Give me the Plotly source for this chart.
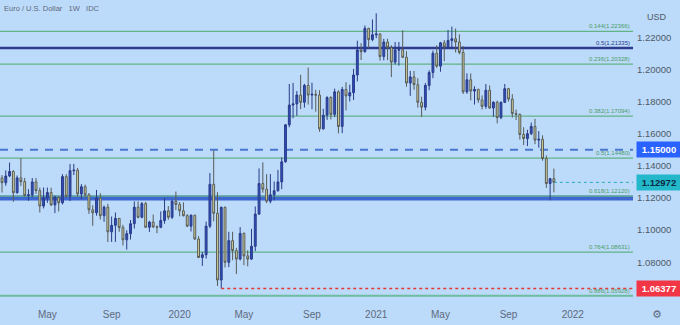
import pandas as pd
import plotly.graph_objects as go

# ---------------- data ----------------
dates = pd.date_range("2019-02-11", "2021-11-29", freq="7D")

opens = [
    # 2019
    1.1325, 1.1295, 1.1337, 1.1365, 1.1233, 1.1325, 1.1302, 1.1216, 1.1220, 1.1300, 1.1246, 1.1150,
    1.1200, 1.1234, 1.1157, 1.1204, 1.1170, 1.1333, 1.1210, 1.1370, 1.1373, 1.1225, 1.1270, 1.1220, 1.1127,
    1.1108, 1.1200, 1.1090, 1.1143, 1.0990, 1.1030, 1.1073, 1.1016, 1.0940, 1.0978, 1.1040, 1.1143, 1.1080,
    1.1165, 1.1018, 1.1050, 1.1020, 1.1018, 1.1060, 1.1120, 1.1080, 1.1180,
    # 2020
    1.1160, 1.1120, 1.1090, 1.1025,
    1.1093, 1.0945, 1.0830, 1.0847,
    1.1025, 1.1285, 1.1105, 1.0690, 1.1142,
    1.0800, 1.0935, 1.0873, 1.0820,
    1.0980, 1.0840, 1.0820, 1.0900,
    1.1100, 1.1290, 1.1255, 1.1180, 1.1220,
    1.1245, 1.1300, 1.1425, 1.1655,
    1.1778, 1.1785, 1.1840, 1.1795, 1.1900,
    1.1840, 1.1845, 1.1840, 1.1630,
    1.1715, 1.1825, 1.1720, 1.1860,
    1.1645, 1.1875, 1.1835, 1.1855, 1.1965,
    1.2120, 1.2110, 1.2255, 1.2185,
    # 2021
    1.2215, 1.2220, 1.2080, 1.2170,
    1.2135, 1.2045, 1.2120, 1.2122,
    1.2075, 1.1915, 1.1953, 1.1905, 1.1795,
    1.1765, 1.1900, 1.1980, 1.2100,
    1.2020, 1.2165, 1.2140, 1.2180, 1.2190,
    1.2170, 1.2105, 1.1860, 1.1935,
    1.1865, 1.1875, 1.1810, 1.1770,
    1.1870, 1.1760, 1.1795, 1.1700, 1.1795,
    1.1880, 1.1815, 1.1725, 1.1720,
    1.1595, 1.1570, 1.1600, 1.1645,
    1.1560, 1.1565, 1.1445, 1.1290, 1.1320,
]
highs = [
    # 2019
    1.1342, 1.1372, 1.1420, 1.1374, 1.1340, 1.1448, 1.1325, 1.1255, 1.1324, 1.1324, 1.1265, 1.1265,
    1.1265, 1.1264, 1.1215, 1.1210, 1.1348, 1.1348, 1.1412, 1.1412, 1.1387, 1.1286, 1.1283, 1.1231, 1.1155,
    1.1250, 1.1230, 1.1153, 1.1164, 1.1085, 1.1110, 1.1076, 1.1033, 1.0999, 1.1063, 1.1179, 1.1179, 1.1175,
    1.1176, 1.1058, 1.1097, 1.1030, 1.1117, 1.1200, 1.1150, 1.1190, 1.1240,
    # 2020
    1.1175, 1.1173, 1.1100, 1.1097,
    1.1095, 1.0963, 1.0865, 1.1053,
    1.1355, 1.1496, 1.1236, 1.1147, 1.1147,
    1.0990, 1.0990, 1.0890, 1.1019,
    1.0986, 1.0875, 1.1008, 1.1147,
    1.1384, 1.1422, 1.1348, 1.1349, 1.1303,
    1.1375, 1.1452, 1.1660, 1.1909,
    1.1916, 1.1865, 1.1966, 1.1910, 1.2011,
    1.1917, 1.1873, 1.1870, 1.1755,
    1.1833, 1.1833, 1.1880, 1.1870,
    1.1891, 1.1920, 1.1905, 1.2003, 1.2178,
    1.2163, 1.2273, 1.2258, 1.2310,
    # 2021
    1.2349, 1.2223, 1.2190, 1.2190,
    1.2150, 1.2170, 1.2170, 1.2243,
    1.2113, 1.1990, 1.1990, 1.1945, 1.1830,
    1.1915, 1.1994, 1.2117, 1.2150,
    1.2171, 1.2182, 1.2245, 1.2266, 1.2254,
    1.2218, 1.2145, 1.1975, 1.1975,
    1.1895, 1.1880, 1.1838, 1.1909,
    1.1900, 1.1802, 1.1805, 1.1800, 1.1909,
    1.1885, 1.1846, 1.1750, 1.1725,
    1.1640, 1.1624, 1.1669, 1.1692,
    1.1616, 1.1590, 1.1465, 1.1325, 1.1383,
]
lows = [
    # 2019
    1.1234, 1.1276, 1.1330, 1.1176, 1.1227, 1.1275, 1.1210, 1.1183, 1.1205, 1.1226, 1.1110, 1.1135,
    1.1170, 1.1150, 1.1106, 1.1116, 1.1160, 1.1202, 1.1181, 1.1343, 1.1208, 1.1193, 1.1200, 1.1101, 1.1027,
    1.1090, 1.1066, 1.1052, 1.0926, 1.0927, 1.0927, 1.0990, 1.0905, 1.0879, 1.0942, 1.1010, 1.1073, 1.1074,
    1.1014, 1.0989, 1.1014, 1.0981, 1.1012, 1.1040, 1.1065, 1.1069, 1.1125,
    # 2020
    1.1086, 1.1085, 1.1019, 1.0992,
    1.0940, 1.0827, 1.0778, 1.0823,
    1.1013, 1.1055, 1.0653, 1.06377, 1.0768,
    1.0770, 1.0813, 1.0727, 1.0812,
    1.0782, 1.0775, 1.0815, 1.0870,
    1.1095, 1.1233, 1.1168, 1.1167, 1.1185,
    1.1240, 1.1255, 1.1420, 1.1640,
    1.1696, 1.1711, 1.1753, 1.1762, 1.1781,
    1.1752, 1.1737, 1.1612, 1.1625,
    1.1686, 1.1689, 1.1703, 1.1602,
    1.1603, 1.1745, 1.1800, 1.1810, 1.1925,
    1.2058, 1.2104, 1.2130, 1.2175,
    # 2021
    1.2194, 1.2054, 1.2056, 1.2057,
    1.1952, 1.2030, 1.2023, 1.2070,
    1.1892, 1.1835, 1.1873, 1.1762, 1.1704,
    1.1745, 1.1870, 1.1945, 1.2010,
    1.1985, 1.2051, 1.2130, 1.2135, 1.2105,
    1.2093, 1.1847, 1.1848, 1.1807,
    1.1781, 1.1792, 1.1751, 1.1755,
    1.1755, 1.1705, 1.1664, 1.1690, 1.1790,
    1.1800, 1.1700, 1.1685, 1.1563,
    1.1529, 1.1523, 1.1591, 1.1535,
    1.1513, 1.1432, 1.1263, 1.1186, 1.1235,
]
closes = [
    # 2019
    1.1295, 1.1337, 1.1365, 1.1233, 1.1325, 1.1302, 1.1216, 1.1220, 1.1300, 1.1246, 1.1150, 1.1200,
    1.1234, 1.1157, 1.1204, 1.1170, 1.1333, 1.1210, 1.1370, 1.1373, 1.1225, 1.1270, 1.1220, 1.1127, 1.1108,
    1.1200, 1.1090, 1.1143, 1.0990, 1.1030, 1.1073, 1.1016, 1.0940, 1.0978, 1.1040, 1.1143, 1.1080, 1.1165,
    1.1018, 1.1050, 1.1020, 1.1018, 1.1060, 1.1120, 1.1080, 1.1180, 1.1160,
    # 2020
    1.1120, 1.1090, 1.1025, 1.1093,
    1.0945, 1.0830, 1.0847, 1.1025,
    1.1285, 1.1105, 1.0690, 1.1142, 1.0800,
    1.0935, 1.0873, 1.0820, 1.0980,
    1.0840, 1.0820, 1.0900, 1.1100,
    1.1290, 1.1255, 1.1180, 1.1220, 1.1245,
    1.1300, 1.1425, 1.1655, 1.1778,
    1.1785, 1.1840, 1.1795, 1.1900, 1.1840,
    1.1845, 1.1840, 1.1630, 1.1715,
    1.1825, 1.1720, 1.1860, 1.1645,
    1.1875, 1.1835, 1.1855, 1.1965, 1.2120,
    1.2110, 1.2255, 1.2185, 1.2215,
    # 2021
    1.2220, 1.2080, 1.2170, 1.2135,
    1.2045, 1.2120, 1.2122, 1.2075,
    1.1915, 1.1953, 1.1905, 1.1795, 1.1765,
    1.1900, 1.1980, 1.2100, 1.2020,
    1.2165, 1.2140, 1.2180, 1.2190, 1.2170,
    1.2105, 1.1860, 1.1935, 1.1865,
    1.1875, 1.1810, 1.1770, 1.1870,
    1.1760, 1.1795, 1.1700, 1.1795, 1.1880,
    1.1815, 1.1725, 1.1720, 1.1595,
    1.1570, 1.1600, 1.1645, 1.1560,
    1.1565, 1.1445, 1.1290, 1.1320, 1.12972,
]

fib_levels = [1.22366, 1.21335, 1.20328, 1.17094, 1.14480, 1.12120, 1.08631, 1.05928]
fib_labels = ["0.144(1.22366)", "0.5(1.21335)", "0.236(1.20328)", "0.382(1.17094)",
              "0.5(1.14480)", "0.618(1.12120)", "0.764(1.08631)", "0.886(1.05928)"]
support_level = 1.1200
resistance_level = 1.1500
last_price = closes[-1]
low_price = min(lows)
low_date = dates[lows.index(low_price)]

tick_dates = ["2019-05-06", "2019-09-02", "2020-01-06", "2020-05-04", "2020-09-07",
              "2021-01-04", "2021-05-03", "2021-09-06", "2022-01-03"]
tick_text = ["May", "Sep", "2020", "May", "Sep", "2021", "May", "Sep", "2022"]
price_ticks = [1.08, 1.10, 1.12, 1.14, 1.16, 1.18, 1.20, 1.22]

# ---------------- style ----------------
BG = "#bcdafa"
FONT = "Liberation Sans, Arial, sans-serif"
AXIS_C = "#4f5a68"
X_START = "2019-02-07 07:00"
X_END = "2022-04-24 12:00"

fig = go.Figure()

# horizontal levels (drawn below candles)
fig.add_shape(type="line", xref="paper", x0=0, x1=1, y0=support_level, y1=support_level,
              line=dict(color="#3e67d4", width=5), layer="below")
fig.add_shape(type="line", xref="paper", x0=0, x1=1, y0=resistance_level, y1=resistance_level,
              line=dict(color="#4a78d0", width=2, dash="8px,7px"), layer="below")
for lv, lb in zip(fib_levels, fib_labels):
    navy = lb.startswith("0.5(1.21")
    if navy:
        col, w = "#2d3a8e", 2.5
    elif lb.startswith("0.886"):
        col, w = "#6fbba0", 2
    else:
        col, w = "#62b386", 1.2
    fig.add_shape(type="line", xref="paper", x0=0, x1=1, y0=lv, y1=lv,
                  line=dict(color=col, width=w), layer="below")
    fig.add_annotation(x=1, xref="paper", xanchor="right", xshift=-1,
                       y=lv, yref="y", yanchor="bottom", yshift=0,
                       text=lb, showarrow=False,
                       font=dict(size=6, color="#2d3a8e" if navy else "#4b9d68", family=FONT))

# red dotted line from the low
fig.add_trace(go.Scatter(x=[low_date, X_END], y=[low_price, low_price], mode="lines",
                         line=dict(color="#e53935", width=1.5, dash="dot"),
                         hoverinfo="skip", showlegend=False))
# teal dotted last-price line
fig.add_trace(go.Scatter(x=[dates[-1], X_END], y=[last_price, last_price], mode="lines",
                         line=dict(color="#2aa9b8", width=1, dash="dot"),
                         hoverinfo="skip", showlegend=False))

fig.add_trace(go.Candlestick(
    x=dates, open=opens, high=highs, low=lows, close=closes,
    increasing=dict(fillcolor="#2d4fc2", line=dict(color="#2b3b86", width=1)),
    decreasing=dict(fillcolor="#d8d49c", line=dict(color="#585c58", width=1)),
    whiskerwidth=0, showlegend=False, hoverinfo="skip",
))

# price boxes on the right axis
for val, bg, fc in [(resistance_level, "#2962ff", "white"),
                    (last_price, "#22b8c9", "#0f2a44"),
                    (low_price, "#f23645", "white")]:
    fig.add_annotation(x=1, xref="paper", xanchor="left", xshift=3,
                       y=val, yref="y", yanchor="middle",
                       text=f"<b>{val:.5f}</b>", showarrow=False,
                       bgcolor=bg, width=40, borderpad=2, align="center",
                       font=dict(size=9.5, color=fc, family=FONT))

# header texts
fig.add_annotation(x=0, xref="paper", xanchor="left", xshift=2,
                   y=1, yref="paper", yanchor="top", yshift=-2,
                   text="Euro / U.S. Dollar\u00a0\u00a0 1W\u00a0\u00a0 IDC", showarrow=False,
                   font=dict(size=7.5, color="#5f6b7a", family=FONT))
fig.add_annotation(x=1, xref="paper", xanchor="center", xshift=24,
                   y=1, yref="paper", yanchor="middle", yshift=-17,
                   text="USD", showarrow=False, bgcolor=BG,
                   font=dict(size=9, color=AXIS_C, family=FONT))
fig.add_annotation(x=1, xref="paper", xanchor="center", xshift=24,
                   y=0, yref="paper", yanchor="middle", yshift=-15,
                   text="\u2699", showarrow=False,
                   font=dict(size=11, color="#5d6b7e", family="DejaVu Sans"))

fig.update_layout(
    width=680, height=325,
    margin=dict(l=0, r=47, t=0, b=26),
    paper_bgcolor=BG, plot_bgcolor=BG,
    showlegend=False,
    font=dict(family=FONT, color=AXIS_C),
    xaxis=dict(type="date", range=[X_START, X_END], rangeslider=dict(visible=False),
               tickvals=tick_dates, ticktext=tick_text, showgrid=False, zeroline=False,
               showline=False, ticks="", tickfont=dict(size=10, color="#5d6b7e"),
               ticklabelstandoff=8),
    yaxis=dict(side="right", range=[1.05719, 1.24313], tickvals=price_ticks,
               ticktext=[f"{v:.5f}" for v in price_ticks], showgrid=False, zeroline=False,
               showline=False, ticks="", tickfont=dict(size=9.5, color=AXIS_C),
               ticklabelstandoff=3),
)

fig.write_html("out.html")
